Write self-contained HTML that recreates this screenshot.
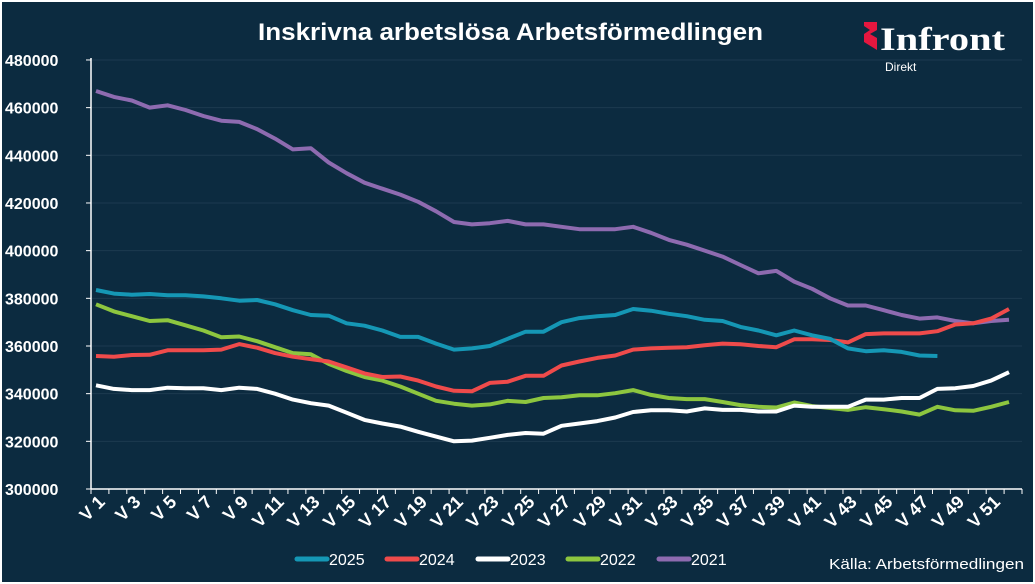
<!DOCTYPE html>
<html><head><meta charset="utf-8"><style>
html,body{margin:0;padding:0;background:#fff}
#c{width:1031px;height:580px;margin:2px;background:#0c2b40;position:relative;overflow:hidden;font-family:"Liberation Sans",sans-serif}
</style></head><body><div id="c">
<svg id="s" width="1031" height="580" viewBox="2 2 1031 580" style="position:absolute;left:0;top:0">
<text x="258" y="40" fill="#fff" font-family="Liberation Sans, sans-serif" font-weight="bold" font-size="24" textLength="505" lengthAdjust="spacingAndGlyphs">Inskrivna arbetslösa Arbetsförmedlingen</text>
<polygon points="864,22 877,22 877,30 870,34 877,38 877,50 864,42 864,34 870,30 864,26" fill="#e5173f"/>
<text x="880" y="50" fill="#fff" font-family="Liberation Serif, serif" font-weight="bold" font-size="33" textLength="125" lengthAdjust="spacingAndGlyphs">Infront</text>
<text x="885" y="71" fill="#fff" font-size="12">Direkt</text>
<g id="g"></g>
<text x="1024" y="569" text-anchor="end" fill="#fff" font-size="15" textLength="195" lengthAdjust="spacingAndGlyphs">Källa:  Arbetsförmedlingen</text>
</svg>
<script>
const s=document.getElementById('g');let h='';
const x0=91,x1=1022,cw=(x1-x0)/52;
const Y=v=>489-(v-300)/20*47.67;
for(let v=300;v<=480;v+=20){const y=Y(v);
 if(v>300)h+=`<line x1="${x0}" x2="1022" y1="${y}" y2="${y}" stroke="#1d3a4f" stroke-width="1"/>`;
 h+=`<line x1="86" x2="${x0}" y1="${y}" y2="${y}" stroke="#fff"/>`;
 h+=`<text x="5" y="${y+6}" fill="#fff" font-weight="bold" font-size="16">${v}000</text>`;}
h+=`<line x1="${x0}" x2="${x0}" y1="58" y2="489" stroke="#fff" stroke-width="1.5"/>`;
h+=`<line x1="${x0}" x2="${x1}" y1="489" y2="489" stroke="#fff" stroke-width="1.5"/>`;
for(let i=0;i<=52;i++){const x=x0+i*cw;h+=`<line x1="${x}" x2="${x}" y1="489" y2="494" stroke="#fff"/>`;}
for(let i=1;i<=51;i+=2){const x=x0+(i-0.5)*cw+6,y=503;
 h+=`<text transform="translate(${x},${y}) rotate(-45)" text-anchor="end" fill="#fff" font-weight="bold" font-size="18">V ${i}</text>`;}
const D={
'#8e6bb0':[467,464.5,463,460,461,459,456.5,454.5,454,451,447,442.5,443,437,432.5,428.5,426,423.5,420.5,416.5,412,411,411.5,412.5,411,411,410,409,409,409,410,407.5,404.5,402.5,400,397.5,394,390.5,391.5,387,384,380,377,377,375,373,371.5,372,370.5,369.5,370.5,371],
'#8dc63f':[377.5,374.5,372.5,370.5,370.8,368.7,366.5,363.7,364,362,359.5,357,356.5,352.5,349.5,347,345.5,343,340,337,335.8,335,335.5,337,336.5,338.2,338.5,339.3,339.3,340.2,341.5,339.5,338.2,337.7,337.7,336.5,335.2,334.5,334.2,336.3,334.8,334,333.2,334.3,333.5,332.5,331.2,334.5,333,332.8,334.5,336.5],
'#ffffff':[343.5,342,341.5,341.5,342.5,342.3,342.3,341.5,342.5,342,340,337.5,336,335,332,329,327.5,326.2,324,322,320,320.3,321.5,322.7,323.5,323.2,326.5,327.5,328.5,330,332.3,333,333,332.5,333.8,333.2,333.2,332.5,332.5,335,334.5,334.5,334.5,337.5,337.5,338.2,338.2,342,342.3,343.2,345.5,349],
'#ef4b4b':[355.8,355.5,356.2,356.3,358.2,358.2,358.2,358.5,360.8,359.3,357,355.5,354.5,353.5,351,348.5,347,347.2,345.5,343,341.2,341,344.5,345,347.5,347.5,351.8,353.5,355,356,358.5,359,359.3,359.5,360.3,361,360.7,360,359.5,362.8,362.8,362.5,361.5,365,365.3,365.3,365.3,366.2,369,369.5,371.5,375.5],
'#1597b5':[383.5,382,381.5,381.8,381.3,381.3,380.8,380,379,379.3,377.5,375,373,372.7,369.5,368.5,366.5,363.8,363.8,361,358.5,359,360,363,366,366,370,371.7,372.5,373,375.5,374.8,373.5,372.5,371,370.5,368,366.5,364.5,366.5,364.5,363,359,357.8,358.2,357.5,356,355.8]};
for(const c in D){h+=`<polyline fill="none" stroke="${c}" stroke-width="4" stroke-linejoin="round" points="${D[c].map((v,i)=>(x0+(i+0.5)*cw-4).toFixed(1)+','+Y(v).toFixed(1)).join(' ')}"/>`;}
const L=[['2025','#1597b5',297],['2024','#ef4b4b',387],['2023','#ffffff',478],['2022','#8dc63f',568],['2021','#8e6bb0',659]];
for(const [t,c,x] of L){h+=`<line x1="${x}" x2="${x+30}" y1="559" y2="559" stroke="${c}" stroke-width="5" stroke-linecap="round"/><text x="${x+32}" y="565" fill="#fff" font-size="16">${t}</text>`;}
s.innerHTML=h;
</script>
</div></body></html>
